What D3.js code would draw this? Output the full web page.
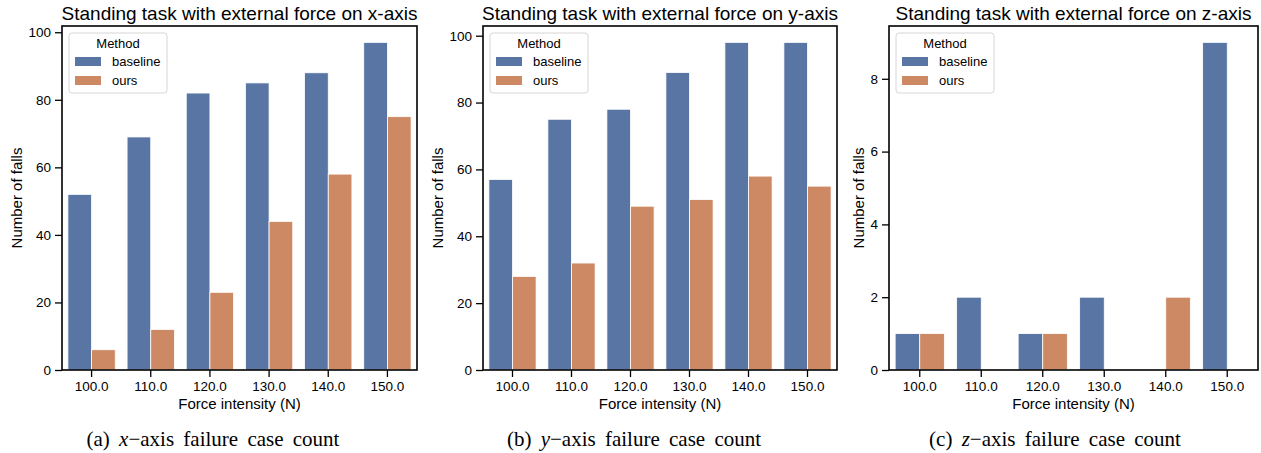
<!DOCTYPE html>
<html lang="en">
<head>
<meta charset="UTF-8">
<title>Standing task failure counts</title>
<script src="https://d3js.org/d3.v7.min.js"></script>
<style>
  body { margin: 0; background: #fff; }
  text { font-family: "Liberation Sans", Arial, sans-serif; fill: #000; }
  .caption { font-family: "Liberation Serif", "Times New Roman", serif; }
</style>
</head>
<body>
<div id="chart"></div>
<script>
// data
const forces = ["100.0", "110.0", "120.0", "130.0", "140.0", "150.0"];
const methods = ["baseline", "ours"];
const xBaseline = [52, 69, 82, 85, 88, 97];
const xOurs = [6, 12, 23, 44, 58, 75];
const yBaseline = [57, 75, 78, 89, 98, 98];
const yOurs = [28, 32, 49, 51, 58, 55];
const zBaseline = [1, 2, 1, 2, 0, 9];
const zOurs = [1, 0, 1, 0, 2, 0];
const ticks100 = [0, 20, 40, 60, 80, 100];
const ticks8 = [0, 2, 4, 6, 8];
const colors = ["#5875a4", "#cc8963"];

const panels = [
  { axis: "x", letter: "a", series: [xBaseline, xOurs], ticks: ticks100, left: 62, right: 417, caption: 213 },
  { axis: "y", letter: "b", series: [yBaseline, yOurs], ticks: ticks100, left: 483, right: 837, caption: 634 },
  { axis: "z", letter: "c", series: [zBaseline, zOurs], ticks: ticks8, left: 889, right: 1258, caption: 1055 }
];
const plotTop = 26, plotBottom = 370;

const svg = d3.select("#chart").append("svg")
  .attr("width", 1261).attr("height", 453);

panels.forEach(p => {
  const g = svg.append("g");
  const ymax = d3.max(p.series.flat()) * 1.05;
  const y = d3.scaleLinear().domain([0, ymax]).range([plotBottom, plotTop]);
  const x = d3.scaleBand().domain(forces).range([p.left, p.right]).padding(0);
  const inner = d3.scaleBand().domain(methods).range([0, x.bandwidth() * 0.8]);

  // bars
  methods.forEach((m, mi) => {
    g.append("g").selectAll("rect")
      .data(p.series[mi])
      .join("rect")
      .attr("x", (d, i) => x(forces[i]) + x.bandwidth() * 0.1 + inner(m))
      .attr("y", d => y(d))
      .attr("width", inner.bandwidth())
      .attr("height", d => y(0) - y(d))
      .attr("fill", colors[mi])
      .attr("stroke", "#fff")
      .attr("stroke-width", 0.8);
  });

  // axes
  const yAxis = g.append("g")
    .attr("transform", `translate(${p.left},0)`)
    .call(d3.axisLeft(y).tickValues(p.ticks).tickSize(7).tickPadding(4));
  const xAxis = g.append("g")
    .attr("transform", `translate(0,${plotBottom})`)
    .call(d3.axisBottom(x).tickSize(7).tickPadding(4));
  [yAxis, xAxis].forEach(a => {
    a.select(".domain").remove();
    a.selectAll(".tick line").attr("stroke", "#000").attr("stroke-width", 1.3);
    a.selectAll(".tick text").style("font-size", "13.5px").style("font-family", "Liberation Sans, Arial, sans-serif");
  });

  // frame
  g.append("rect")
    .attr("x", p.left).attr("y", plotTop)
    .attr("width", p.right - p.left).attr("height", plotBottom - plotTop)
    .attr("fill", "none").attr("stroke", "#000").attr("stroke-width", 1.6);

  // labels
  g.append("text")
    .attr("x", (p.left + p.right) / 2).attr("y", 20)
    .attr("text-anchor", "middle").style("font-size", "19px")
    .text(`Standing task with external force on ${p.axis}-axis`);
  g.append("text")
    .attr("x", (p.left + p.right) / 2).attr("y", 409)
    .attr("text-anchor", "middle").style("font-size", "15px")
    .text("Force intensity (N)");
  // ylabel sits just left of the widest tick label, like matplotlib
  const labelLeft = d3.min(yAxis.selectAll(".tick text").nodes(), n => n.getBoundingClientRect().left);
  g.append("text")
    .attr("transform", `translate(${labelLeft - 12},${(plotTop + plotBottom) / 2}) rotate(-90)`)
    .attr("text-anchor", "middle").attr("dy", "0.35em").style("font-size", "15px")
    .text("Number of falls");

  // legend
  const lg = g.append("g").attr("transform", `translate(${p.left + 7},${plotTop + 7})`);
  lg.append("rect")
    .attr("width", 98).attr("height", 60).attr("rx", 3)
    .attr("fill", "#fff").attr("fill-opacity", 0.8)
    .attr("stroke", "#d6d6d6").attr("stroke-width", 1);
  lg.append("text").attr("x", 49).attr("y", 15)
    .attr("text-anchor", "middle").style("font-size", "13px").text("Method");
  methods.forEach((m, mi) => {
    lg.append("rect")
      .attr("x", 6).attr("y", 24 + mi * 19).attr("width", 26).attr("height", 9)
      .attr("fill", colors[mi]);
    lg.append("text").attr("x", 43).attr("y", 33 + mi * 19)
      .style("font-size", "13px").text(m);
  });

  // caption
  const cap = svg.append("text").attr("class", "caption")
    .attr("x", p.caption).attr("y", 446)
    .attr("text-anchor", "middle").style("font-size", "21px")
    .attr("word-spacing", "4px");
  cap.append("tspan").text(`(${p.letter}) `);
  cap.append("tspan").style("font-style", "italic").text(p.axis);
  cap.append("tspan").text("\u2212axis failure case count");
});
</script>
</body>
</html>
